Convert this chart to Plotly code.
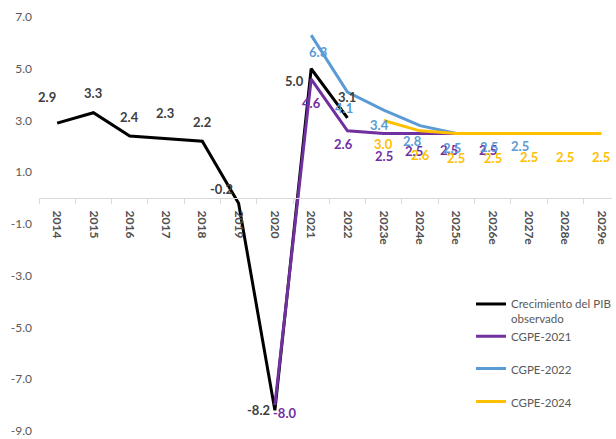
import plotly.graph_objects as go

categories = ["2014", "2015", "2016", "2017", "2018", "2019", "2020", "2021", "2022",
              "2023e", "2024e", "2025e", "2026e", "2027e", "2028e", "2029e"]

obs_x = ["2014", "2015", "2016", "2017", "2018", "2019", "2020", "2021", "2022"]
obs_y = [2.9, 3.3, 2.4, 2.3, 2.2, -0.2, -8.2, 5.0, 3.1]

cgpe21_x = ["2020", "2021", "2022", "2023e", "2024e", "2025e", "2026e"]
cgpe21_y = [-8.0, 4.6, 2.6, 2.5, 2.5, 2.5, 2.5]

cgpe22_x = ["2021", "2022", "2023e", "2024e", "2025e", "2026e", "2027e"]
cgpe22_y = [6.3, 4.1, 3.4, 2.8, 2.5, 2.5, 2.5]

cgpe24_x = ["2023e", "2024e", "2025e", "2026e", "2027e", "2028e", "2029e"]
cgpe24_y = [3.0, 2.6, 2.5, 2.5, 2.5, 2.5, 2.5]

ytick_vals = [-9, -7, -5, -3, -1, 1, 3, 5, 7]
ytick_text = ["-9.0", "-7.0", "-5.0", "-3.0", "-1.0", "1.0", "3.0", "5.0", "7.0"]

# label offsets in pixels (dx right, dy down) - styling only
obs_off = [(-10, -26), (0, -20), (0, -19), (-1, -26), (0, -19.5), (-17, -14), (-16, 0), (-17, 12), (0, -20.5)]
c21_off = [(10, 8), (0, 24), (-4, 13), (0, 23), (-6, 18), (-7, 17), (-5, 17)]
c22_off = [(7, 16.5), (-3, 16), (-4, 15), (-7.5, 15), (-4, 15), (-4, 14), (-9, 13)]
c24_off = [(0, 23.5), (0, 24), (0, 25), (0, 25), (0, 24), (0, 24), (0, 24)]

C_BLACK = "#000000"
C_PURPLE = "#7030A0"
C_BLUE = "#5B9BD5"
C_YELLOW = "#FFC000"

FONT = "Lato"
W, H = 616, 439
ML = 39
YMIN, YMAX = -9.309, 7.657

fig = go.Figure()
series = [
    ("Crecimiento del PIB<br>observado", obs_x, obs_y, C_BLACK, "#404040", obs_off, "legend"),
    ("CGPE-2021", cgpe21_x, cgpe21_y, C_PURPLE, C_PURPLE, c21_off, "legend2"),
    ("CGPE-2022", cgpe22_x, cgpe22_y, C_BLUE, C_BLUE, c22_off, "legend3"),
    ("CGPE-2024", cgpe24_x, cgpe24_y, C_YELLOW, C_YELLOW, c24_off, "legend4"),
]
annotations = []
for name, xs, ys, col, lcol, offs, lg in series:
    fig.add_trace(go.Scatter(x=xs, y=ys, mode="lines", name=name,
                             line=dict(color=col, width=3), legend=lg))
    for xv, yv, (dx, dy) in zip(xs, ys, offs):
        annotations.append(dict(x=categories.index(xv), y=yv, xref="x", yref="y",
                                text=f"<b>{yv:.1f}</b>",
                                showarrow=False, xshift=dx, yshift=-dy,
                                font=dict(family=FONT, size=13, color=lcol)))

plot_h = H
xpos = (0 - YMIN) / (YMAX - YMIN)
pw = W - ML

def lx(px):
    return (px - ML) / pw

def ly(py):
    return 1 - py / plot_h

leg_common = dict(xanchor="left", yanchor="middle", bgcolor="rgba(0,0,0,0)",
                  font=dict(family=FONT, size=11.5, color="#595959"), valign="top",
                  itemwidth=30)

fig.update_layout(
    width=W, height=H,
    margin=dict(l=ML, r=0, t=0, b=0),
    paper_bgcolor="white", plot_bgcolor="white",
    showlegend=True,
    legend=dict(x=lx(474), y=ly(311.5), **leg_common),
    legend2=dict(x=lx(474), y=ly(336.7), **leg_common),
    legend3=dict(x=lx(474), y=ly(369), **leg_common),
    legend4=dict(x=lx(474), y=ly(402), **leg_common),
    xaxis=dict(type="category", categoryorder="array", categoryarray=categories,
               range=[-0.5, 15.29], anchor="free", position=xpos,
               showline=True, linecolor="#d9d9d9", linewidth=1,
               ticks="outside", ticklen=5, tickcolor="#d9d9d9", tickson="boundaries",
               tickangle=90, showgrid=False, zeroline=False, ticklabelstandoff=9,
               tickfont=dict(family=FONT, size=12, color="#505050", weight="bold")),
    yaxis=dict(range=[YMIN, YMAX], tickvals=ytick_vals, ticktext=ytick_text,
               showline=False, showgrid=False, zeroline=False, ticks="",
               ticklabelstandoff=6,
               tickfont=dict(family=FONT, size=12, color="#595959")),
    annotations=annotations,
)

fig.write_html("out.html")
